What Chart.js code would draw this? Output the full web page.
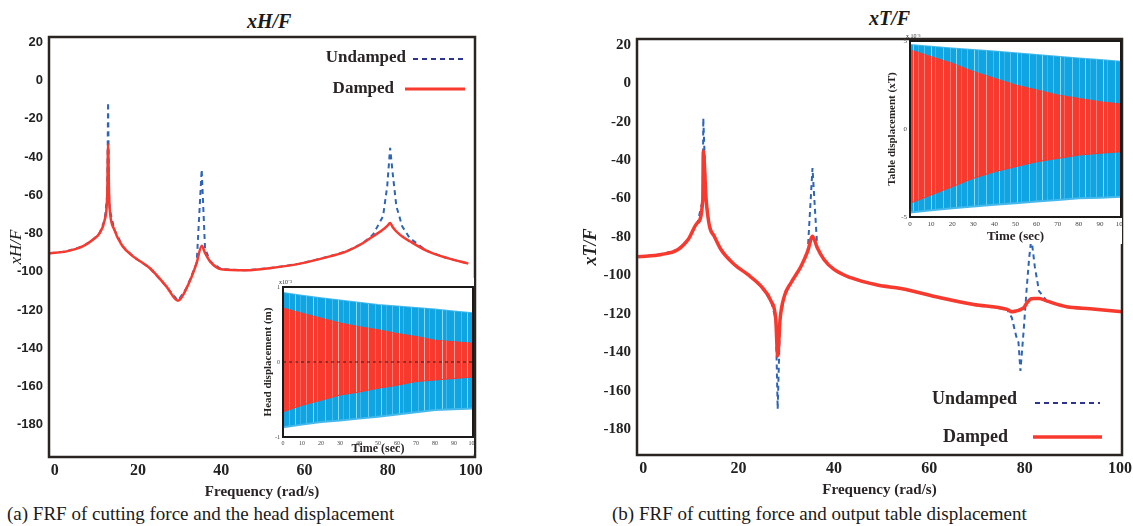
<!DOCTYPE html>
<html>
<head>
<meta charset="utf-8">
<script src="https://cdn.jsdelivr.net/npm/chart.js@4.4.1/dist/chart.umd.min.js"></script>
<style>
  body { margin: 0; width: 1133px; height: 526px; position: relative; background: #fff; overflow: hidden; font-family: 'Liberation Serif', serif; color: #1a1a1a; }
  canvas, .txt { position: absolute; }
  .ttl { font-size: 20px; font-style: italic; font-weight: bold; line-height: 22px; white-space: nowrap; }
  .cap { font-size: 19px; line-height: 22px; white-space: nowrap; }
</style>
</head>
<body>
<div class="txt ttl" id="ttlA" style="left:247px;top:10px">xH/F</div>
<div class="txt ttl" id="ttlB" style="left:869px;top:7px">xT/F</div>
<div class="txt cap" style="left:7px;top:503px">(a) FRF of cutting force and the head displacement</div>
<div class="txt cap" style="left:612px;top:503px">(b) FRF of cutting force and output table displacement</div>

<canvas id="frfA" width="560" height="526" style="left:0;top:0"></canvas>
<canvas id="frfB" width="573" height="526" style="left:560px;top:0"></canvas>
<canvas id="headT" width="214" height="178" style="left:260px;top:278px"></canvas>
<canvas id="tableT" width="244" height="216" style="left:878px;top:28px"></canvas>

<script>
// FRF xH/F (left)
const freqA = [-1.2, 2.8, 6.8, 9.2, 10.8, 12, 12.6, 12.8, 13.05, 13.2, 14.3, 16.3, 18.8, 22.8, 26.8, 29.6, 31.7, 34.1, 35.3, 36.1, 37.3, 40, 46, 52, 58.9, 66.1, 70.1, 74.1, 76.5, 78.9, 79.9, 80.6, 81.2, 82.1, 83.5, 85.3, 89.3, 94.2, 99.4];
const dampedA = [-90.3, -89.3, -86.6, -83.1, -79.6, -72.7, -59.6, -33.4, -60.5, -67.4, -77.9, -86.6, -91.9, -98, -107.6, -115.1, -108.4, -95.3, -86.3, -90.1, -94.5, -98.6, -99.2, -98, -95.7, -91.9, -89.3, -84.9, -81.4, -77.9, -76, -74.4, -76.5, -78.9, -81.5, -84, -88.9, -92.7, -95.7];
const undampedA = [-90.3, -89.3, -86.6, -83.1, -79.6, -72.7, -59.6, -11.4, -60.5, -67.4, -77.9, -86.6, -91.9, -98, -107.6, -115.1, -108.4, -95.3, -46.5, -87.5, -94.5, -98.6, -99.2, -98, -95.7, -91.9, -89.3, -84.9, -80.5, -70.9, -55.2, -35.2, -48.2, -65.7, -76.2, -82.3, -88.9, -92.7, -95.7];

// FRF xT/F (right)
const freqB = [-1.05, 3.8, 7.3, 9.5, 11.4, 12.5, 12.6, 13.2, 13.9, 14.9, 16.3, 19.1, 21.9, 24.7, 26.8, 27.8, 28.2, 28.7, 29.6, 31, 33.1, 34.5, 35.5, 36.5, 37.9, 40, 43.5, 49.1, 54, 62.3, 69.3, 76.3, 77.3, 78.2, 78.7, 79.1, 79.8, 80.4, 80.9, 81.4, 82.1, 83, 84.7, 88.8, 93.7, 100.4];
const dampedB = [-90.3, -89.1, -86.5, -81, -72.5, -60.5, -35.4, -60.5, -74.4, -79.6, -86.5, -94.3, -99.5, -105.6, -113.4, -122.9, -141.9, -122.9, -110.8, -103.8, -95.2, -87.4, -79.6, -85.6, -91.7, -96.9, -101.2, -105, -106.8, -111.6, -115.1, -117.7, -118.9, -118.5, -118.2, -117.8, -116.8, -114.5, -113, -112.1, -112, -112, -113.4, -116.3, -117.3, -118.9];
const undampedB = [-90.3, -89.1, -86.5, -81, -72.5, -60.5, -18.1, -60.5, -74.4, -79.6, -86.5, -94.3, -99.5, -105.6, -113.4, -122.9, -169.6, -122.9, -110.8, -103.8, -95.2, -87.4, -44.1, -85.6, -91.7, -96.9, -101.2, -105, -106.8, -111.6, -115.1, -117.7, -122, -131.5, -135, -149.7, -128, -107.3, -91.7, -80.4, -95.2, -108.2, -113.4, -116.3, -117.3, -118.9];

// tick labels
const freqTicks = [0, 20, 40, 60, 80, 100];
const dbTicks = [-180, -160, -140, -120, -100, -80, -60, -40, -20, 0, 20];
const timeTicks = [0, 10, 20, 30, 40, 50, 60, 70, 80, 90, 100];
const headTicks = [-1, 0, 1];
const tableTicks = [-5, 0, 5];

// time responses (envelopes), t = 0..100 s
const timeT = [0, 10, 20, 30, 40, 50, 60, 70, 80, 90, 100];
const headBlueUp = [0.92, 0.885, 0.85, 0.82, 0.79, 0.76, 0.74, 0.72, 0.70, 0.675, 0.65];
const headBlueLow = [-0.87, -0.835, -0.80, -0.78, -0.755, -0.73, -0.70, -0.67, -0.64, -0.63, -0.62];
const headRedUp = [0.72, 0.65, 0.585, 0.52, 0.47, 0.43, 0.38, 0.34, 0.29, 0.27, 0.25];
const headRedLow = [-0.665, -0.576, -0.51, -0.44, -0.40, -0.35, -0.31, -0.26, -0.24, -0.22, -0.20];
const tableBlueUp = [4.77, 4.68, 4.58, 4.49, 4.4, 4.3, 4.2, 4.1, 4.01, 3.92, 3.82];
const tableBlueLow = [-4.75, -4.62, -4.5, -4.41, -4.31, -4.22, -4.12, -4.03, -3.94, -3.9, -3.85];
const tableRedUp = [4.49, 4.11, 3.73, 3.26, 2.88, 2.5, 2.22, 1.93, 1.74, 1.55, 1.42];
const tableRedLow = [-4.22, -3.75, -3.28, -2.8, -2.43, -2.14, -1.86, -1.67, -1.48, -1.38, -1.29];

const SERIF = "'Liberation Serif', 'Times New Roman', serif";
const RED = '#f8392e';
const BLUE = '#2f64b7';
const CYAN = '#0ea5e2';
const FRAME = '#2a2520';

function pts(xs, ys) {
    return xs.map((x, i) => ({ x: x, y: ys[i] }));
}

function fixTicks(values) {
    return s => { s.ticks = values.map(v => ({ value: v })); };
}

// fixed axis size, and no extra room for the end labels
function fixSize(key, size) {
    return s => {
        s[key] = size;
        s.paddingLeft = s.paddingRight = s.paddingTop = s.paddingBottom = 0;
    };
}

// streaky fill, like the dense oscillation in the scanned insets
function streaks(base, light) {
    const p = document.createElement('canvas');
    p.width = 43; p.height = 4;
    const c = p.getContext('2d');
    c.fillStyle = base;
    c.fillRect(0, 0, 43, 4);
    c.fillStyle = light;
    [[3, 0.5], [10, 0.9], [14, 0.35], [22, 0.7], [29, 0.4], [35, 0.85], [40, 0.3]].forEach(([x, a]) => {
        c.globalAlpha = a;
        c.fillRect(x, 0, 1, 4);
    });
    return document.createElement('canvas').getContext('2d').createPattern(p, 'repeat');
}

// box round the plot area, plus white under insets
const framePlugin = {
    id: 'frame',
    beforeDraw(chart, args, opts) {
        if (opts.bg) {
            const c = chart.ctx;
            c.save();
            c.fillStyle = '#fff';
            c.fillRect(opts.bg[0], opts.bg[1], opts.bg[2], opts.bg[3]);
            c.restore();
        }
    },
    afterDraw(chart, args, opts) {
        const a = chart.chartArea, c = chart.ctx;
        c.save();
        c.strokeStyle = opts.color || FRAME;
        c.lineWidth = opts.width || 2.5;
        c.strokeRect(a.left, a.top, a.right - a.left, a.bottom - a.top);
        if (opts.exp) {
            c.fillStyle = '#333';
            c.font = '6px ' + SERIF;
            c.textBaseline = 'bottom';
            c.fillText(opts.exp, a.left - 4, a.top - 2);
        }
        c.restore();
    }
};

// legend: label text, then a sample of the line
const keyPlugin = {
    id: 'key',
    afterDraw(chart, args, opts) {
        if (!opts.items) return;
        const c = chart.ctx;
        c.save();
        c.font = 'bold ' + opts.size + 'px ' + SERIF;
        c.textBaseline = 'middle';
        c.textAlign = 'right';
        c.fillStyle = '#2a2424';
        opts.items.forEach(it => {
            const ds = chart.data.datasets[it.ds];
            c.fillText(ds.label, it.tx, it.y);
            c.beginPath();
            c.strokeStyle = it.color || ds.borderColor;
            c.lineWidth = it.lw || ds.borderWidth;
            c.setLineDash(ds.borderDash || []);
            c.moveTo(it.x1, it.ly);
            c.lineTo(it.x2, it.ly);
            c.stroke();
        });
        c.restore();
    }
};

Chart.register(framePlugin, keyPlugin);

const noGrid = { display: false, drawTicks: false, tickLength: 0 };

function frfChart(id, freq, damped, undamped, o) {
    return new Chart(document.getElementById(id), {
        type: 'line',
        data: {
            datasets: [
                { label: 'Damped', data: pts(freq, damped), borderColor: RED, borderWidth: o.redWidth, pointRadius: 0, cubicInterpolationMode: 'monotone' },
                { label: 'Undamped', data: pts(freq, undamped), borderColor: BLUE, borderWidth: 2, borderDash: [5, 4], pointRadius: 0, tension: 0 }
            ]
        },
        options: {
            responsive: false,
            animation: false,
            events: [],
            layout: { padding: o.padding },
            plugins: {
                legend: { display: false },
                tooltip: { enabled: false },
                frame: { width: 2.5 },
                key: o.key
            },
            scales: {
                x: {
                    type: 'linear',
                    min: o.xMin, max: o.xMax,
                    afterBuildTicks: fixTicks(freqTicks),
                    afterFit: fixSize('height', 44),
                    grid: noGrid,
                    border: { display: false },
                    ticks: {
                        autoSkip: false, maxRotation: 0, padding: 4,
                        color: '#222', font: { family: SERIF, weight: 'bold', size: 16 }
                    },
                    title: {
                        display: true, text: 'Frequency (rad/s)', color: '#2a2424',
                        font: { family: SERIF, weight: 'bold', size: 15 }, padding: { top: 0, bottom: 0 }
                    }
                },
                y: {
                    min: o.yMin, max: o.yMax,
                    afterBuildTicks: fixTicks(dbTicks),
                    afterFit: fixSize('width', o.yWidth),
                    grid: noGrid,
                    border: { display: false },
                    ticks: { autoSkip: false, padding: 6, color: '#222', font: o.yFont },
                    title: {
                        display: true, text: o.yTitle, color: '#222',
                        font: o.yTitleFont, padding: { top: o.yTitlePad, bottom: 0 }
                    }
                }
            }
        }
    });
}

frfChart('frfA', freqA, dampedA, undampedA, {
    redWidth: 2.5,
    xMin: -1.4, xMax: 101, yMin: -196.8, yMax: 22.8, yWidth: 49,
    padding: { left: 0, top: 37, right: 85, bottom: 25 },
    yFont: { family: "'Liberation Sans', Arial, sans-serif", weight: 'bold', size: 13 },
    yTitle: 'xH/F', yTitleFont: { family: SERIF, style: 'italic', size: 17 }, yTitlePad: 6,
    key: {
        size: 17,
        items: [
            { ds: 1, tx: 406, y: 58, x1: 413, x2: 463, ly: 59, color: '#2b3590' },
            { ds: 0, tx: 394, y: 89, x1: 405, x2: 465, ly: 89, lw: 3 }
        ]
    }
});

frfChart('frfB', freqB, dampedB, undampedB, {
    redWidth: 3.5,
    xMin: -1.3, xMax: 100.4, yMin: -193.5, yMax: 23.1, yWidth: 77,
    padding: { left: 0, top: 39, right: 11, bottom: 27 },
    yFont: { family: SERIF, weight: 'bold', size: 15 },
    yTitle: 'xT/F', yTitleFont: { family: SERIF, style: 'italic', weight: 'bold', size: 18 }, yTitlePad: 21,
    key: {
        size: 18,
        items: [
            { ds: 1, tx: 457, y: 399, x1: 475, x2: 540, ly: 403, color: '#2b3590' },
            { ds: 0, tx: 448, y: 437, x1: 473, x2: 542, ly: 437, lw: 3.5 }
        ]
    }
});

function timeChart(id, blueUp, blueLow, redUp, redLow, o) {
    const bluePat = streaks(CYAN, '#9ddff8');
    const redPat = streaks(RED, '#ffc4c0');
    const sets = [
        { data: pts(timeT, blueUp), borderColor: '#45b9ec', borderWidth: 2, backgroundColor: bluePat, pointRadius: 0, order: 4 },
        { data: pts(timeT, blueLow), borderColor: '#45b9ec', borderWidth: 2, backgroundColor: bluePat, pointRadius: 0, fill: 0, order: 3 },
        { data: pts(timeT, redUp), borderColor: RED, borderWidth: 1, backgroundColor: redPat, pointRadius: 0, order: 2 },
        { data: pts(timeT, redLow), borderColor: RED, borderWidth: 1, backgroundColor: redPat, pointRadius: 0, fill: 2, order: 1 }
    ];
    if (o.zeroLine) {
        sets.push({ data: pts([0, 100], [0, 0]), borderColor: '#222', borderWidth: 1.2, borderDash: [3, 3], pointRadius: 0, order: 0 });
    }
    return new Chart(document.getElementById(id), {
        type: 'line',
        data: { datasets: sets },
        options: {
            responsive: false,
            animation: false,
            events: [],
            layout: { padding: o.padding },
            plugins: {
                legend: { display: false },
                tooltip: { enabled: false },
                frame: { width: 2, color: '#1c1a18', bg: o.bg, exp: o.exp }
            },
            scales: {
                x: {
                    type: 'linear', min: 0, max: 100,
                    afterBuildTicks: fixTicks(timeTicks),
                    afterFit: fixSize('height', o.xHeight),
                    grid: noGrid,
                    border: { display: false },
                    ticks: { autoSkip: false, maxRotation: 0, padding: 3, color: '#444', font: { family: SERIF, size: o.tickSize } },
                    title: { display: true, text: 'Time (sec)', color: '#2a2424', font: { family: SERIF, weight: 'bold', size: o.xTitleSize }, padding: 0 }
                },
                y: {
                    min: o.yMin, max: o.yMax,
                    afterBuildTicks: fixTicks(o.yTicks),
                    afterFit: fixSize('width', o.yWidth),
                    grid: noGrid,
                    border: { display: false },
                    ticks: { autoSkip: false, padding: 3, color: '#444', font: { family: SERIF, size: o.tickSize } },
                    title: { display: true, text: o.yTitle, color: '#2a2424', font: { family: SERIF, weight: 'bold', size: o.yTitleSize }, padding: { top: o.yTitlePad, bottom: 0 } }
                }
            }
        }
    });
}

timeChart('headT', headBlueUp, headBlueLow, headRedUp, headRedLow, {
    zeroLine: true,
    padding: { left: 0, top: 9, right: 1, bottom: 0 },
    bg: [0, 0, 214, 176],
    exp: 'x10\u207B\u00B3',
    xHeight: 19, yWidth: 23, tickSize: 6, xTitleSize: 12,
    yMin: -1, yMax: 1, yTicks: headTicks,
    yTitle: 'Head displacement (m)', yTitleSize: 11, yTitlePad: 2
});

timeChart('tableT', tableBlueUp, tableBlueLow, tableRedUp, tableRedLow, {
    zeroLine: false,
    padding: { left: 0, top: 13, right: 1, bottom: 0 },
    bg: [0, 13, 244, 203],
    exp: 'x 10\u207B\u2076',
    xHeight: 27, yWidth: 32, tickSize: 7, xTitleSize: 13,
    yMin: -5, yMax: 5, yTicks: tableTicks,
    yTitle: 'Table displacement (xT)', yTitleSize: 11, yTitlePad: 8
});
</script>
</body>
</html>
